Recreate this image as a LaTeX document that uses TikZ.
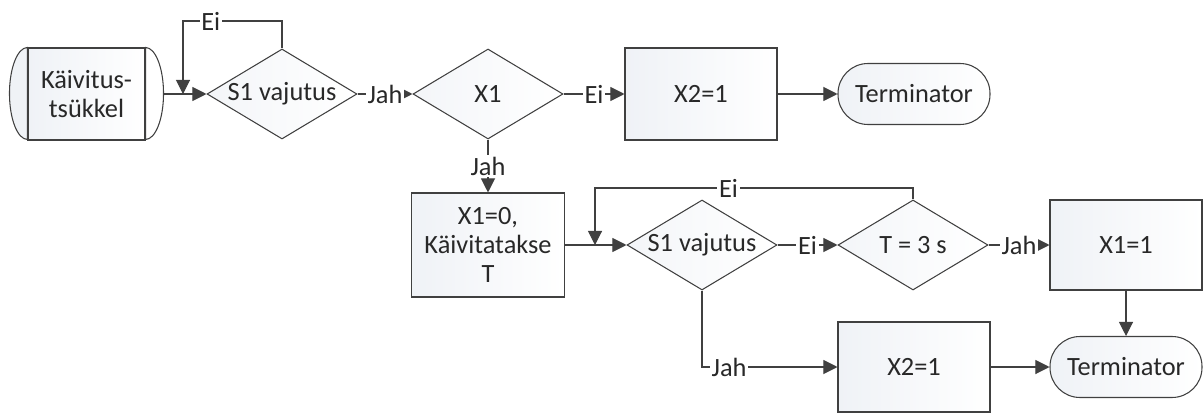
\documentclass[tikz,border=0pt]{standalone}
\usepackage{fontspec}
\setmainfont{Carlito}
\usepackage{xcolor}
\usepackage{tikz}
\usetikzlibrary{positioning, arrows.meta, shapes.geometric}

\definecolor{linegray}{RGB}{64,64,64}
\definecolor{textgray}{RGB}{40,40,40}
\definecolor{boxshade}{RGB}{226,231,239}

\begin{document}
\begin{tikzpicture}[
    % Styles for the flowchart blocks
    block/.style={
        rectangle,
        draw=linegray,
        semithick,
        left color=boxshade!55,
        right color=white,
        text=textgray,
        font=\fontsize{15}{16.5}\selectfont,
        minimum width=3.04cm,
        minimum height=1.84cm,
        inner sep=2pt,
        align=center
    },
    decision/.style={
        diamond,
        draw=linegray,
        semithick,
        left color=boxshade!40,
        right color=white,
        text=textgray,
        font=\fontsize{15}{16.5}\selectfont,
        aspect=1.67,
        inner sep=0pt,
        minimum width=3cm,
        minimum height=1.8cm
    },
    terminal/.style={
        block,
        rounded corners=0.6cm,
        minimum height=1.22cm
    },
    flow/.style={
        draw=linegray,
        semithick,
        -{Triangle[length=8pt, width=8pt]}
    },
    answer/.style={
        fill=white,    % hides the line behind the text
        text=textgray,
        font=\fontsize{15}{16.5}\selectfont,
        inner sep=1pt
    }
]
    \useasboundingbox (0,0) rectangle (24.08,8.28);

    % --- Top row ---
    \node[block, minimum width=2.34cm] (start) at (1.73,6.40) {Käivitus-\\tsükkel};
    \filldraw[draw=linegray, semithick, fill=boxshade!55]
        (start.north west) arc[start angle=90, end angle=270, x radius=0.36cm, y radius=0.92cm] -- cycle;
    \filldraw[draw=linegray, semithick, fill=white]
        (start.north east) arc[start angle=90, end angle=-90, x radius=0.36cm, y radius=0.92cm] -- cycle;

    \node[decision] (press1) at (5.64,6.40) {S1 vajutus};
    \node[decision] (xone) at (9.76,6.40) {X1};
    \node[block] (xtwoA) at (14.02,6.40) {X2=1};
    \node[terminal] (endA) at (18.28,6.40) {Terminator};

    % --- Middle row ---
    \node[block, minimum width=3.06cm, minimum height=2.08cm] (reset) at (9.76,3.38) {X1=0,\\Käivitatakse\\T};
    \node[decision] (press2) at (14.04,3.38) {S1 vajutus};
    \node[decision] (timer) at (18.26,3.38) {T = 3 s};
    \node[block, minimum height=1.8cm] (xoneset) at (22.52,3.38) {X1=1};

    % --- Bottom row ---
    \node[block, minimum height=1.8cm] (xtwoB) at (18.28,0.94) {X2=1};
    \node[terminal] (endB) at (22.52,0.94) {Terminator};

    % --- Connectors ---
    \coordinate (loopA) at (3.66,7.86);
    \coordinate (loopB) at (11.90,4.52);

    \draw[flow] ([xshift=0.36cm]start.east) -- (press1.west);
    \draw[flow] (press1.north) |- (loopA) node[answer, pos=0.86] {Ei} -- (loopA |- press1.west);
    \draw[flow] (press1.east) -- (xone.west) node[answer, midway] {Jah};
    \draw[flow] (xone.east) -- (xtwoA.west) node[answer, midway] {Ei};
    \draw[flow] (xtwoA.east) -- (endA.west);
    \draw[flow] (xone.south) -- (reset.north) node[answer, midway] {Jah};

    \draw[flow] (reset.east) -- (press2.west);
    \draw[flow] (press2.east) -- (timer.west) node[answer, midway] {Ei};
    \draw[flow] (timer.north) |- (loopB) node[answer, pos=0.79] {Ei} -- (loopB |- press2.west);
    \draw[flow] (timer.east) -- (xoneset.west) node[answer, midway] {Jah};
    \draw[flow] (xoneset.south) -- (endB.north);
    \draw[flow] (press2.south) |- (xtwoB.west) node[answer, pos=0.6] {Jah};
    \draw[flow] (xtwoB.east) -- (endB.west);

\end{tikzpicture}
\end{document}
